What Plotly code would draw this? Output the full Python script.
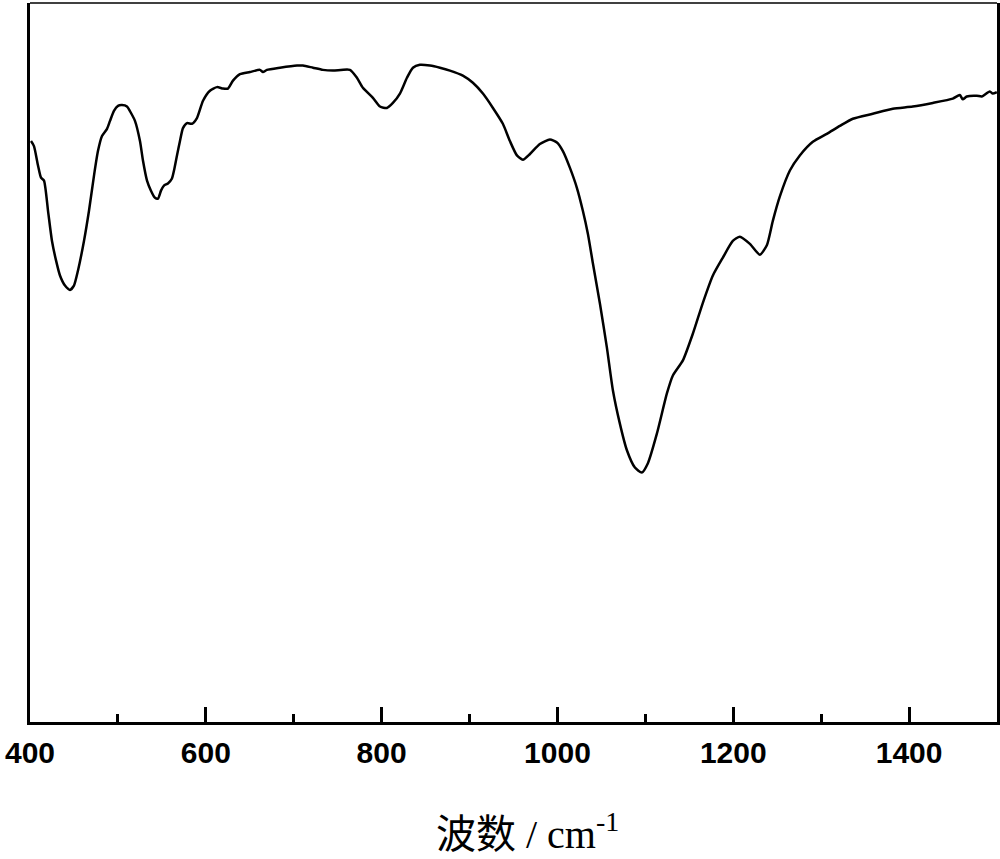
import plotly.graph_objects as go

# Wavenumber (cm^-1) and transmittance (arbitrary units)
wavenumber = [
    401.1, 404.5, 409.1, 412.5, 415.9, 420.5, 425.0, 429.6, 434.1, 439.8,
    445.5, 450.0, 454.6, 461.4, 467.1, 472.8, 477.3, 481.9, 487.6, 491.0,
    495.5, 500.1, 504.6, 510.3, 514.9, 519.4, 525.1, 528.5, 533.1, 537.6,
    542.2, 545.6, 549.0, 552.4, 556.9, 561.5, 563.8, 567.2, 570.6, 574.0,
    578.6, 584.2, 589.9, 596.8, 604.7, 612.7, 619.5, 625.2, 630.9, 638.8,
    650.2, 661.6, 665.0, 669.5, 684.3, 703.7, 710.5, 721.9, 733.2, 744.6,
    763.9, 771.9, 778.7, 790.1, 798.1, 806.0, 812.8, 820.8, 828.8, 835.6,
    843.5, 854.9, 866.3, 877.7, 892.4, 903.8, 915.2, 926.6, 937.9, 945.9,
    953.9, 960.7, 968.7, 980.0, 991.4, 999.4, 1006.2, 1014.1, 1022.1, 1028.9,
    1034.6, 1040.3, 1048.3, 1056.2, 1063.1, 1071.0, 1079.0, 1088.1, 1096.0, 1102.9,
    1113.1, 1124.5, 1131.3, 1142.7, 1154.0, 1165.4, 1176.8, 1188.2, 1199.5, 1207.5,
    1218.9, 1230.2, 1238.2, 1245.0, 1253.0, 1264.4, 1275.7, 1290.5, 1306.4, 1321.2,
    1336.0, 1358.7, 1381.5, 1404.2, 1427.0, 1449.7, 1457.7, 1461.1, 1465.6, 1477.0,
    1482.7, 1491.8, 1495.2, 1499.8,
]
transmittance = [
    80.8, 80.1, 77.4, 75.7, 75.3, 71.1, 66.9, 64.2, 62.1, 60.7,
    60.1, 60.7, 62.8, 66.9, 71.1, 76.0, 79.4, 81.5, 82.5, 83.6,
    85.0, 85.7, 85.8, 85.6, 84.7, 83.6, 80.8, 78.1, 75.3, 73.9,
    72.9, 72.8, 73.9, 74.6, 74.9, 75.6, 76.7, 78.8, 80.8, 82.6,
    83.3, 83.2, 84.0, 86.4, 87.8, 88.3, 88.1, 88.1, 89.2, 90.1,
    90.4, 90.7, 90.4, 90.7, 91.0, 91.3, 91.3, 91.0, 90.7, 90.6,
    90.7, 89.6, 88.2, 86.8, 85.6, 85.4, 86.1, 87.4, 89.6, 91.0,
    91.4, 91.3, 91.0, 90.6, 89.9, 88.9, 87.4, 85.4, 83.2, 80.8,
    78.8, 78.2, 79.0, 80.4, 81.0, 80.6, 79.4, 77.1, 74.3, 71.1,
    67.9, 63.8, 58.2, 52.1, 46.1, 41.5, 37.8, 35.4, 34.7, 36.0,
    40.1, 45.7, 48.2, 50.3, 54.0, 58.3, 62.1, 64.6, 66.9, 67.5,
    66.5, 65.0, 66.3, 69.7, 73.1, 76.7, 78.8, 80.7, 81.8, 82.9,
    83.9, 84.6, 85.3, 85.6, 86.1, 86.7, 87.2, 86.6, 87.0, 87.1,
    87.0, 87.7, 87.4, 87.6,
]

x_ticks = [400, 600, 800, 1000, 1200, 1400]
x_title = "波数 / cm<sup>-1</sup>"

fig = go.Figure()
fig.add_trace(go.Scatter(
    x=wavenumber, y=transmittance, mode="lines",
    line=dict(color="black", width=2.5, shape="spline", smoothing=0.6),
    hoverinfo="skip", showlegend=False,
))

fig.update_layout(
    width=1000, height=859,
    margin=dict(l=30, r=3, t=3, b=137, autoexpand=False),
    paper_bgcolor="white", plot_bgcolor="white",
    xaxis=dict(
        range=[400, 1500], showgrid=False, zeroline=False, automargin=False,
        showline=True, linecolor="black", linewidth=2.5, mirror=False,
        ticks="inside", ticklen=15, tickwidth=2.5, tickcolor="black",
        tickvals=x_ticks, ticktext=[str(v) for v in x_ticks],
        ticklabelstandoff=2,
        tickfont=dict(family="Liberation Sans, Arial", size=30, color="black", weight="bold"),
        minor=dict(dtick=100, tick0=400, ticks="inside", ticklen=8, tickwidth=2.5, tickcolor="black"),
    ),
    yaxis=dict(
        range=[0, 100], showgrid=False, zeroline=False, automargin=False,
        showline=True, linecolor="black", linewidth=3, mirror=True,
        showticklabels=False, ticks="",
    ),
    shapes=[dict(type="line", xref="paper", yref="paper", x0=0, x1=1, y0=1, y1=1,
                 line=dict(color="black", width=1.5))],
    annotations=[dict(
        text=x_title, xref="paper", yref="paper", x=0.514, y=-0.152,
        xanchor="center", yanchor="middle", showarrow=False,
        font=dict(family="Liberation Serif, Noto Sans CJK SC", size=40, color="black"),
    )],
)

fig.write_html("out.html", config={"displayModeBar": False},
               post_script="document.body.style.margin='0';document.body.style.padding='0';")
